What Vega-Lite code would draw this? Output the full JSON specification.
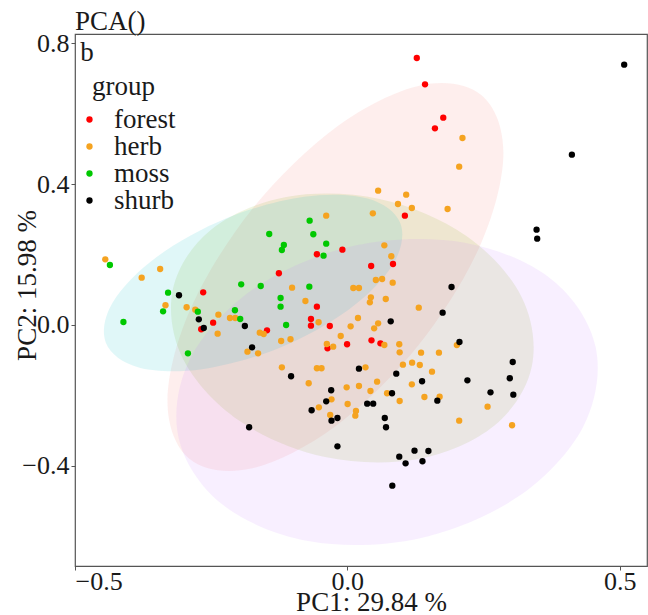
{
  "$schema": "https://vega.github.io/schema/vega-lite/v6.json",
  "width": 572,
  "height": 532,
  "autosize": {"type": "none"},
  "padding": {"left": 75, "top": 34, "right": 1, "bottom": 49},
  "background": "white",
  "title": {"text": "PCA()", "anchor": "start", "frame": "group", "fontSize": 27, "fontWeight": "normal", "font": "Liberation Serif", "color": "#1a1a1a", "baseline": "alphabetic", "offset": 3, "dy": 30},
  "config": {
    "font": "Liberation Serif",
    "view": {"stroke": "#555555", "strokeWidth": 1.2},
    "axis": {"grid": false, "domain": false, "tickColor": "#555555", "tickSize": 4, "labelFontSize": 26, "labelColor": "#1a1a1a", "titleFontSize": 27, "titleFontWeight": "normal", "titleColor": "#1a1a1a", "labelFont": "Liberation Serif", "titleFont": "Liberation Serif"}
  },
  "datasets": {
    "pts": [
      {"group": "forest", "pc1": 0.1275, "pc2": 0.7585},
      {"group": "forest", "pc1": 0.1426, "pc2": 0.6838},
      {"group": "forest", "pc1": 0.1761, "pc2": 0.5889},
      {"group": "forest", "pc1": 0.1608, "pc2": 0.5588},
      {"group": "forest", "pc1": 0.1056, "pc2": 0.3105},
      {"group": "forest", "pc1": -0.0559, "pc2": 0.2009},
      {"group": "forest", "pc1": -0.0091, "pc2": 0.2139},
      {"group": "forest", "pc1": -0.1257, "pc2": 0.1469},
      {"group": "forest", "pc1": 0.0437, "pc2": 0.1676},
      {"group": "forest", "pc1": 0.0838, "pc2": 0.1733},
      {"group": "forest", "pc1": -0.0559, "pc2": 0.0520},
      {"group": "forest", "pc1": -0.0668, "pc2": 0.0170},
      {"group": "forest", "pc1": -0.0668, "pc2": -0.0020},
      {"group": "forest", "pc1": -0.0322, "pc2": -0.0028},
      {"group": "forest", "pc1": -0.0005, "pc2": -0.0548},
      {"group": "forest", "pc1": 0.0443, "pc2": -0.0435},
      {"group": "forest", "pc1": 0.0607, "pc2": -0.0520},
      {"group": "forest", "pc1": -0.0364, "pc2": -0.0662},
      {"group": "forest", "pc1": -0.2647, "pc2": 0.0929},
      {"group": "forest", "pc1": -0.2464, "pc2": 0.0065},
      {"group": "forest", "pc1": -0.2683, "pc2": -0.0122},
      {"group": "forest", "pc1": -0.1475, "pc2": -0.0151},
      {"group": "herb", "pc1": 0.0565, "pc2": 0.3815},
      {"group": "herb", "pc1": 0.1080, "pc2": 0.3702},
      {"group": "herb", "pc1": 0.2113, "pc2": 0.5313},
      {"group": "herb", "pc1": 0.2053, "pc2": 0.4497},
      {"group": "herb", "pc1": 0.0929, "pc2": 0.3438},
      {"group": "herb", "pc1": 0.1184, "pc2": 0.3324},
      {"group": "herb", "pc1": 0.1840, "pc2": 0.3295},
      {"group": "herb", "pc1": -0.0388, "pc2": 0.3105},
      {"group": "herb", "pc1": 0.0468, "pc2": 0.3173},
      {"group": "herb", "pc1": 0.0679, "pc2": 0.2264},
      {"group": "herb", "pc1": 0.0807, "pc2": 0.1952},
      {"group": "herb", "pc1": 0.0523, "pc2": 0.1278},
      {"group": "herb", "pc1": 0.0638, "pc2": 0.1307},
      {"group": "herb", "pc1": 0.0832, "pc2": 0.1202},
      {"group": "herb", "pc1": -0.1015, "pc2": 0.1060},
      {"group": "herb", "pc1": 0.0109, "pc2": 0.1051},
      {"group": "herb", "pc1": 0.0213, "pc2": 0.1051},
      {"group": "herb", "pc1": -0.0770, "pc2": 0.0682},
      {"group": "herb", "pc1": 0.0432, "pc2": 0.0787},
      {"group": "herb", "pc1": 0.0413, "pc2": 0.0645},
      {"group": "herb", "pc1": 0.0705, "pc2": 0.0739},
      {"group": "herb", "pc1": 0.1311, "pc2": 0.0491},
      {"group": "herb", "pc1": -0.0528, "pc2": 0.0077},
      {"group": "herb", "pc1": 0.0195, "pc2": 0.0199},
      {"group": "herb", "pc1": 0.0060, "pc2": -0.0037},
      {"group": "herb", "pc1": 0.0492, "pc2": -0.0094},
      {"group": "herb", "pc1": 0.0565, "pc2": 0.0048},
      {"group": "herb", "pc1": -0.0122, "pc2": -0.0313},
      {"group": "herb", "pc1": -0.1215, "pc2": -0.0455},
      {"group": "herb", "pc1": -0.1044, "pc2": -0.0406},
      {"group": "herb", "pc1": -0.0377, "pc2": -0.0540},
      {"group": "herb", "pc1": -0.0260, "pc2": -0.0616},
      {"group": "herb", "pc1": 0.0679, "pc2": -0.0568},
      {"group": "herb", "pc1": 0.0953, "pc2": -0.0548},
      {"group": "herb", "pc1": -0.4444, "pc2": 0.1866},
      {"group": "herb", "pc1": -0.3437, "pc2": 0.1591},
      {"group": "herb", "pc1": -0.3776, "pc2": 0.1344},
      {"group": "herb", "pc1": -0.3339, "pc2": 0.0560},
      {"group": "herb", "pc1": -0.2951, "pc2": 0.0503},
      {"group": "herb", "pc1": -0.2792, "pc2": 0.0435},
      {"group": "herb", "pc1": -0.2368, "pc2": 0.0293},
      {"group": "herb", "pc1": -0.2155, "pc2": 0.0199},
      {"group": "herb", "pc1": -0.2058, "pc2": 0.0199},
      {"group": "herb", "pc1": -0.2381, "pc2": -0.0247},
      {"group": "herb", "pc1": -0.1608, "pc2": -0.0219},
      {"group": "herb", "pc1": -0.1536, "pc2": -0.0256},
      {"group": "herb", "pc1": -0.1834, "pc2": -0.0759},
      {"group": "herb", "pc1": -0.1639, "pc2": -0.0804},
      {"group": "herb", "pc1": -0.1202, "pc2": -0.1202},
      {"group": "herb", "pc1": -0.0559, "pc2": -0.1230},
      {"group": "herb", "pc1": -0.0474, "pc2": -0.1230},
      {"group": "herb", "pc1": -0.0710, "pc2": -0.1656},
      {"group": "herb", "pc1": 0.0333, "pc2": -0.1202},
      {"group": "herb", "pc1": 0.0960, "pc2": -0.0776},
      {"group": "herb", "pc1": 0.1353, "pc2": -0.0787},
      {"group": "herb", "pc1": 0.1681, "pc2": -0.0787},
      {"group": "herb", "pc1": 0.1020, "pc2": -0.1128},
      {"group": "herb", "pc1": 0.1189, "pc2": -0.1071},
      {"group": "herb", "pc1": 0.1330, "pc2": -0.1136},
      {"group": "herb", "pc1": 0.1554, "pc2": -0.1327},
      {"group": "herb", "pc1": 0.1184, "pc2": -0.1685},
      {"group": "herb", "pc1": 0.0546, "pc2": -0.1611},
      {"group": "herb", "pc1": 0.0213, "pc2": -0.1733},
      {"group": "herb", "pc1": 0.0424, "pc2": -0.1875},
      {"group": "herb", "pc1": -0.0013, "pc2": -0.1770},
      {"group": "herb", "pc1": 0.0005, "pc2": -0.2244},
      {"group": "herb", "pc1": -0.0291, "pc2": -0.2111},
      {"group": "herb", "pc1": -0.0523, "pc2": -0.2338},
      {"group": "herb", "pc1": 0.0729, "pc2": -0.1940},
      {"group": "herb", "pc1": 0.0960, "pc2": -0.2159},
      {"group": "herb", "pc1": 0.1415, "pc2": -0.2045},
      {"group": "herb", "pc1": 0.1694, "pc2": -0.2037},
      {"group": "herb", "pc1": 0.0158, "pc2": -0.2443},
      {"group": "herb", "pc1": 0.0146, "pc2": -0.2577},
      {"group": "herb", "pc1": -0.0315, "pc2": -0.2557},
      {"group": "herb", "pc1": 0.2574, "pc2": -0.2321},
      {"group": "herb", "pc1": 0.2053, "pc2": -0.2719},
      {"group": "herb", "pc1": 0.3024, "pc2": -0.2849},
      {"group": "herb", "pc1": 0.2010, "pc2": -0.0570},
      {"group": "moss", "pc1": -0.0692, "pc2": 0.2963},
      {"group": "moss", "pc1": -0.0625, "pc2": 0.2577},
      {"group": "moss", "pc1": -0.0388, "pc2": 0.2310},
      {"group": "moss", "pc1": -0.1166, "pc2": 0.2273},
      {"group": "moss", "pc1": -0.1202, "pc2": 0.2131},
      {"group": "moss", "pc1": -0.0437, "pc2": 0.1969},
      {"group": "moss", "pc1": -0.0698, "pc2": 0.1088},
      {"group": "moss", "pc1": -0.1226, "pc2": 0.0767},
      {"group": "moss", "pc1": -0.1226, "pc2": 0.0520},
      {"group": "moss", "pc1": -0.1124, "pc2": 0.0},
      {"group": "moss", "pc1": -0.4359, "pc2": 0.1705},
      {"group": "moss", "pc1": -0.1434, "pc2": 0.2585},
      {"group": "moss", "pc1": -0.3291, "pc2": 0.0918},
      {"group": "moss", "pc1": -0.1949, "pc2": 0.1156},
      {"group": "moss", "pc1": -0.1590, "pc2": 0.1108},
      {"group": "moss", "pc1": -0.3383, "pc2": 0.0389},
      {"group": "moss", "pc1": -0.2745, "pc2": 0.0378},
      {"group": "moss", "pc1": -0.2064, "pc2": 0.0418},
      {"group": "moss", "pc1": -0.1967, "pc2": 0.0170},
      {"group": "moss", "pc1": -0.4111, "pc2": 0.0085},
      {"group": "moss", "pc1": -0.2927, "pc2": -0.0804},
      {"group": "shurb", "pc1": 0.5082, "pc2": 0.7395},
      {"group": "shurb", "pc1": 0.4122, "pc2": 0.4838},
      {"group": "shurb", "pc1": 0.3474, "pc2": 0.2707},
      {"group": "shurb", "pc1": 0.3485, "pc2": 0.2452},
      {"group": "shurb", "pc1": 0.1913, "pc2": 0.1080},
      {"group": "shurb", "pc1": 0.1749, "pc2": 0.0349},
      {"group": "shurb", "pc1": 0.0796, "pc2": 0.0105},
      {"group": "shurb", "pc1": -0.3091, "pc2": 0.0844},
      {"group": "shurb", "pc1": -0.2727, "pc2": 0.0162},
      {"group": "shurb", "pc1": -0.2636, "pc2": -0.0085},
      {"group": "shurb", "pc1": -0.1882, "pc2": -0.0028},
      {"group": "shurb", "pc1": -0.1749, "pc2": -0.0634},
      {"group": "shurb", "pc1": -0.1803, "pc2": -0.2906},
      {"group": "shurb", "pc1": -0.1033, "pc2": -0.1457},
      {"group": "shurb", "pc1": 0.0213, "pc2": -0.1241},
      {"group": "shurb", "pc1": 0.0898, "pc2": -0.1384},
      {"group": "shurb", "pc1": 0.1372, "pc2": -0.1599},
      {"group": "shurb", "pc1": -0.0297, "pc2": -0.1855},
      {"group": "shurb", "pc1": -0.0388, "pc2": -0.2168},
      {"group": "shurb", "pc1": -0.0656, "pc2": -0.2423},
      {"group": "shurb", "pc1": 0.0820, "pc2": -0.1940},
      {"group": "shurb", "pc1": 0.0364, "pc2": -0.2236},
      {"group": "shurb", "pc1": 0.0474, "pc2": -0.2236},
      {"group": "shurb", "pc1": 0.1652, "pc2": -0.2151},
      {"group": "shurb", "pc1": -0.0291, "pc2": -0.2719},
      {"group": "shurb", "pc1": -0.0182, "pc2": -0.2642},
      {"group": "shurb", "pc1": 0.0687, "pc2": -0.2642},
      {"group": "shurb", "pc1": 0.0710, "pc2": -0.2906},
      {"group": "shurb", "pc1": -0.0182, "pc2": -0.3446},
      {"group": "shurb", "pc1": 0.0953, "pc2": -0.3741},
      {"group": "shurb", "pc1": 0.1233, "pc2": -0.3571},
      {"group": "shurb", "pc1": 0.1069, "pc2": -0.3929},
      {"group": "shurb", "pc1": 0.1488, "pc2": -0.3580},
      {"group": "shurb", "pc1": 0.1379, "pc2": -0.3872},
      {"group": "shurb", "pc1": 0.0825, "pc2": -0.4565},
      {"group": "shurb", "pc1": 0.3036, "pc2": -0.1051},
      {"group": "shurb", "pc1": 0.2204, "pc2": -0.1571},
      {"group": "shurb", "pc1": 0.2982, "pc2": -0.1514},
      {"group": "shurb", "pc1": 0.2628, "pc2": -0.1912},
      {"group": "shurb", "pc1": 0.3047, "pc2": -0.1980},
      {"group": "shurb", "pc1": 0.2058, "pc2": -0.0483}
    ],
    "ell": [
      {"group": "forest", "i": 0, "pc1": 0.2458, "pc2": 0.6536},
      {"group": "forest", "i": 1, "pc1": 0.2865, "pc2": 0.4878},
      {"group": "forest", "i": 2, "pc1": 0.2444, "pc2": 0.2281},
      {"group": "forest", "i": 3, "pc1": 0.1311, "pc2": -0.0563},
      {"group": "forest", "i": 4, "pc1": -0.0231, "pc2": -0.2892},
      {"group": "forest", "i": 5, "pc1": -0.1770, "pc2": -0.4080},
      {"group": "forest", "i": 6, "pc1": -0.2895, "pc2": -0.3808},
      {"group": "forest", "i": 7, "pc1": -0.3302, "pc2": -0.2151},
      {"group": "forest", "i": 8, "pc1": -0.2882, "pc2": 0.0446},
      {"group": "forest", "i": 9, "pc1": -0.1749, "pc2": 0.3290},
      {"group": "forest", "i": 10, "pc1": -0.0206, "pc2": 0.5619},
      {"group": "forest", "i": 11, "pc1": 0.1335, "pc2": 0.6807},
      {"group": "herb", "i": 0, "pc1": 0.3386, "pc2": -0.1179},
      {"group": "herb", "i": 1, "pc1": 0.2695, "pc2": -0.2865},
      {"group": "herb", "i": 2, "pc1": 0.1305, "pc2": -0.3808},
      {"group": "herb", "i": 3, "pc1": -0.0410, "pc2": -0.3753},
      {"group": "herb", "i": 4, "pc1": -0.1990, "pc2": -0.2714},
      {"group": "herb", "i": 5, "pc1": -0.3014, "pc2": -0.0973},
      {"group": "herb", "i": 6, "pc1": -0.3204, "pc2": 0.1009},
      {"group": "herb", "i": 7, "pc1": -0.2513, "pc2": 0.2695},
      {"group": "herb", "i": 8, "pc1": -0.1123, "pc2": 0.3638},
      {"group": "herb", "i": 9, "pc1": 0.0592, "pc2": 0.3582},
      {"group": "herb", "i": 10, "pc1": 0.2172, "pc2": 0.2544},
      {"group": "herb", "i": 11, "pc1": 0.3196, "pc2": 0.0803},
      {"group": "moss", "i": 0, "pc1": 0.0971, "pc2": 0.2898},
      {"group": "moss", "i": 1, "pc1": 0.0847, "pc2": 0.1749},
      {"group": "moss", "i": 2, "pc1": 0.0034, "pc2": 0.0449},
      {"group": "moss", "i": 3, "pc1": -0.1252, "pc2": -0.0651},
      {"group": "moss", "i": 4, "pc1": -0.2668, "pc2": -0.1256},
      {"group": "moss", "i": 5, "pc1": -0.3831, "pc2": -0.1206},
      {"group": "moss", "i": 6, "pc1": -0.4432, "pc2": -0.0511},
      {"group": "moss", "i": 7, "pc1": -0.4308, "pc2": 0.0638},
      {"group": "moss", "i": 8, "pc1": -0.3495, "pc2": 0.1938},
      {"group": "moss", "i": 9, "pc1": -0.2209, "pc2": 0.3037},
      {"group": "moss", "i": 10, "pc1": -0.0793, "pc2": 0.3642},
      {"group": "moss", "i": 11, "pc1": 0.0370, "pc2": 0.3592},
      {"group": "shurb", "i": 0, "pc1": 0.4559, "pc2": -0.0634},
      {"group": "shurb", "i": 1, "pc1": 0.4330, "pc2": -0.2888},
      {"group": "shurb", "i": 2, "pc1": 0.3136, "pc2": -0.4876},
      {"group": "shurb", "i": 3, "pc1": 0.1297, "pc2": -0.6071},
      {"group": "shurb", "i": 4, "pc1": -0.0695, "pc2": -0.6146},
      {"group": "shurb", "i": 5, "pc1": -0.2304, "pc2": -0.5087},
      {"group": "shurb", "i": 6, "pc1": -0.3102, "pc2": -0.3173},
      {"group": "shurb", "i": 7, "pc1": -0.2872, "pc2": -0.0919},
      {"group": "shurb", "i": 8, "pc1": -0.1678, "pc2": 0.1070},
      {"group": "shurb", "i": 9, "pc1": 0.0160, "pc2": 0.2264},
      {"group": "shurb", "i": 10, "pc1": 0.2152, "pc2": 0.2339},
      {"group": "shurb", "i": 11, "pc1": 0.3761, "pc2": 0.1280}
    ],
    "tag": [{"label": "b", "pc1": -0.4905, "pc2": 0.75}]
  },
  "encoding": {
    "x": {"field": "pc1", "type": "quantitative", "scale": {"domain": [-0.5, 0.5501], "nice": false, "zero": false},
      "axis": {"values": [-0.5, 0, 0.5], "format": ".1f", "title": "PC1: 29.84 %", "labelPadding": -2, "titleX": 296, "titleY": 44, "titleBaseline": "alphabetic", "titleAnchor": null}},
    "y": {"field": "pc2", "type": "quantitative", "scale": {"domain": [-0.6847, 0.8267], "nice": false, "zero": false},
      "axis": {"values": [-0.4, 0, 0.4, 0.8], "format": ".1f", "title": "PC2: 15.98 %", "labelPadding": 2, "titleX": -40, "titleY": 251, "titleAngle": -90, "titleAlign": "center", "titleBaseline": "alphabetic"}}
  },
  "layer": [
    {"data": {"name": "ell"}, "transform": [{"filter": "datum.group === 'forest'"}],
      "mark": {"type": "line", "interpolate": "cardinal-closed", "fill": "#F8766D", "fillOpacity": 0.12, "strokeOpacity": 0},
      "encoding": {"order": {"field": "i", "type": "quantitative"}}},
    {"data": {"name": "ell"}, "transform": [{"filter": "datum.group === 'herb'"}],
      "mark": {"type": "line", "interpolate": "cardinal-closed", "fill": "#7CAE00", "fillOpacity": 0.12, "strokeOpacity": 0},
      "encoding": {"order": {"field": "i", "type": "quantitative"}}},
    {"data": {"name": "ell"}, "transform": [{"filter": "datum.group === 'moss'"}],
      "mark": {"type": "line", "interpolate": "cardinal-closed", "fill": "#00BFC4", "fillOpacity": 0.12, "strokeOpacity": 0},
      "encoding": {"order": {"field": "i", "type": "quantitative"}}},
    {"data": {"name": "ell"}, "transform": [{"filter": "datum.group === 'shurb'"}],
      "mark": {"type": "line", "interpolate": "cardinal-closed", "fill": "#C77CFF", "fillOpacity": 0.12, "strokeOpacity": 0},
      "encoding": {"order": {"field": "i", "type": "quantitative"}}},
    {"mark": {"type": "rule", "color": "#bdbdbd", "strokeWidth": 1.5},
      "encoding": {"x": {"datum": 0}, "y": null}},
    {"mark": {"type": "rule", "color": "#bdbdbd", "strokeWidth": 1.5},
      "encoding": {"y": {"datum": 0}, "x": null}},
    {"data": {"name": "pts"},
      "mark": {"type": "circle", "size": 40, "opacity": 1},
      "encoding": {"color": {"field": "group", "type": "nominal",
        "scale": {"domain": ["forest", "herb", "moss", "shurb"], "range": ["#FF0000", "#F5A320", "#00C800", "#000000"]},
        "legend": {"title": "group", "orient": "none", "legendX": 17, "legendY": 40, "padding": 0, "titleFontSize": 27, "titleFontWeight": "normal", "titleColor": "#1a1a1a", "titlePadding": 5, "labelFontSize": 27, "labelColor": "#1a1a1a", "symbolSize": 40, "symbolOffset": -16, "labelOffset": 11, "rowPadding": -2, "symbolType": "circle"}}}},
    {"data": {"name": "tag"},
      "mark": {"type": "text", "fontSize": 27, "align": "left", "baseline": "alphabetic", "color": "#1a1a1a"},
      "encoding": {"text": {"field": "label"}}}
  ]
}
